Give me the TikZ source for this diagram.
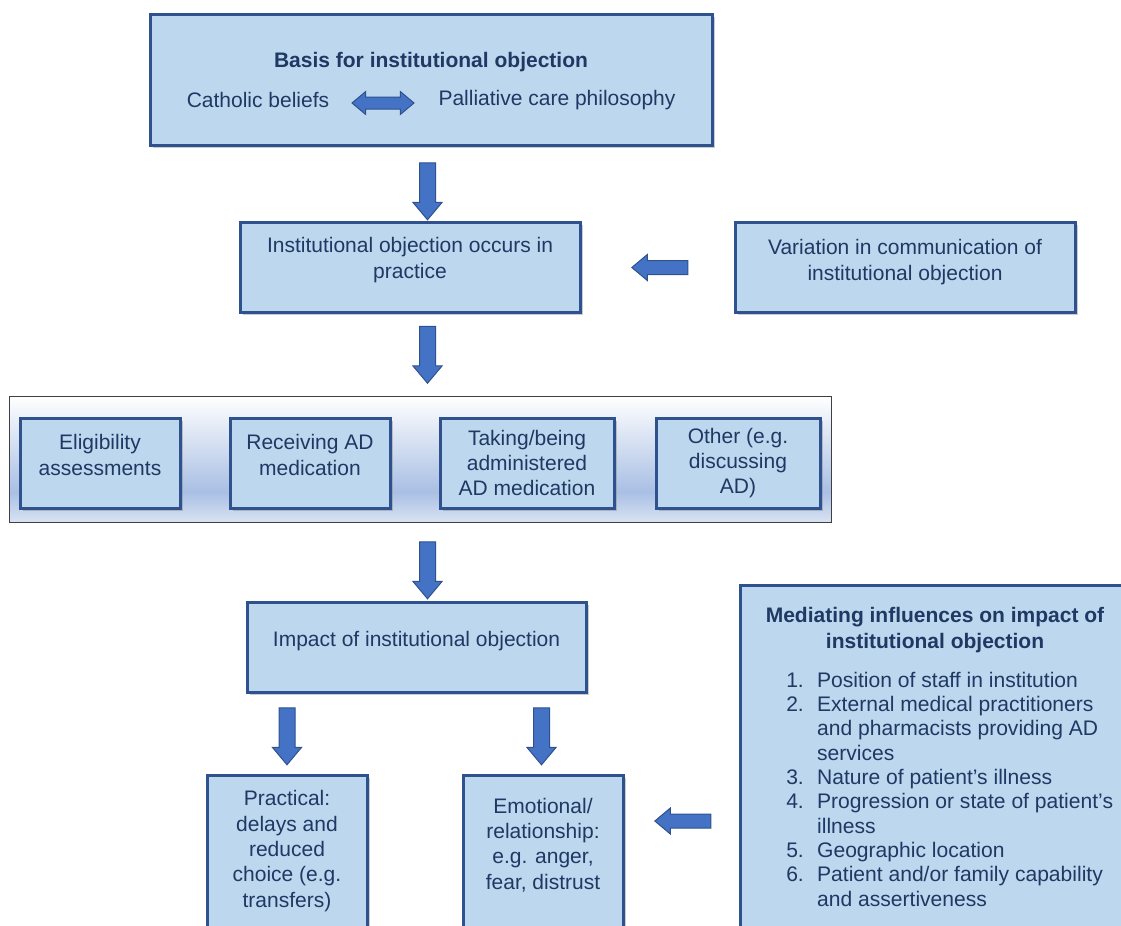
\documentclass[tikz,border=0pt]{standalone}
\usepackage{fontspec}
\setmainfont{Liberation Sans}
\usetikzlibrary{shapes.arrows,shadows}

\definecolor{boxfill}{HTML}{BDD7EE}
\definecolor{boxline}{HTML}{2F528F}
\definecolor{arrowfill}{HTML}{4472C4}
\definecolor{txt}{HTML}{1F3864}
\definecolor{bandblue}{HTML}{A9BFE4}

\pgfdeclareverticalshading{bandshade}{100bp}{color(0bp)=(bandblue!45); color(25bp)=(bandblue!45); color(37bp)=(bandblue); color(75bp)=(white); color(100bp)=(white)}

\newcommand{\pxu}{0.75pt}

\tikzset{
  box/.style={draw=boxline, line width=2.25pt, fill=boxfill, text=txt, align=center, inner sep=0pt,
    font=\fontsize{15.75}{19}\selectfont,
    drop shadow={shadow xshift=2.5pt, shadow yshift=-2.5pt, opacity=.4}},
  lift/.style={text depth=#1},   % pushes the text up in its box
  lbl/.style={text=txt, align=center, inner sep=0pt, font=\fontsize{15.75}{19}\selectfont},
  blockarrow/.style={single arrow, draw=boxline, fill=arrowfill, line width=.75pt,
    minimum height=57*\pxu, minimum width=28*\pxu, single arrow head extend=6.5*\pxu,
    single arrow tip angle=80, inner xsep=0pt, inner ysep=7.5*\pxu},
  downarrow/.style={blockarrow, rotate=-90},
  leftarrow/.style={blockarrow, rotate=180, minimum height=56*\pxu, minimum width=25*\pxu, single arrow head extend=6*\pxu, inner ysep=6.5*\pxu},
  botharrow/.style={double arrow, draw=boxline, fill=arrowfill, line width=.75pt,
    minimum height=62*\pxu, minimum width=22*\pxu, double arrow head extend=5.5*\pxu,
    double arrow tip angle=80, inner xsep=0pt, inner ysep=5.5*\pxu}
}

\begin{document}
\begin{tikzpicture}[x=\pxu, y=-\pxu]
  \useasboundingbox (0,0) rectangle (1121,925);
  \clip (0,0) rectangle (1121,925);

  % top box
  \node[box, minimum width=562*\pxu, minimum height=131*\pxu] (basis) at (431,79.5) {};
  \node[lbl, font=\fontsize{15.75}{19}\selectfont\bfseries] (basistitle) at (431,62) {Basis for institutional objection};
  \node[lbl] (catholic) at (258,100) {Catholic beliefs};
  \node[lbl] (palliative) at (557,100) {Palliative care philosophy};
  \node[botharrow] (both) at (383,103) {};

  \node[box, lift=13.8pt, minimum width=340*\pxu, minimum height=90*\pxu] (practice) at (410,267) {Institutional objection occurs in\\practice};
  \node[box, lift=10.5pt, minimum width=340*\pxu, minimum height=90*\pxu] (variation) at (905,267) {Variation in communication of\\institutional objection};

  % band of situations
  \node[draw=black!75, line width=.75pt, shade, shading=bandshade, inner sep=0pt,
    minimum width=822*\pxu, minimum height=126*\pxu] (band) at (420,459) {};
  \node[box, lift=12pt, minimum width=160*\pxu, minimum height=90*\pxu] (elig) at (100,463) {Eligibility\\assessments};
  \node[box, lift=12pt, minimum width=160*\pxu, minimum height=90*\pxu] (receiving) at (310,463) {Receiving AD\\medication};
  \node[box, minimum width=174*\pxu, minimum height=90*\pxu] (taking) at (527,463) {Taking/being\\administered\\AD medication};
  \node[box, minimum width=164*\pxu, minimum height=90*\pxu] (other) at (738,463) {Other (e.g.\\discussing\\AD)};

  \node[box, lift=12.3pt, minimum width=339*\pxu, minimum height=90*\pxu] (impact) at (416.5,647) {Impact of institutional objection};
  \node[box, lift=9.3pt, minimum width=160*\pxu, minimum height=160*\pxu] (practical) at (287,855) {Practical:\\delays and\\reduced\\choice (e.g.\\transfers)};
  \node[box, lift=17.3pt, minimum width=160*\pxu, minimum height=160*\pxu] (emotional) at (543,855) {Emotional/\\relationship:\\e.g. anger,\\fear, distrust};

  % mediating influences
  \node[box, minimum width=390*\pxu, minimum height=355*\pxu] (mediating) at (935,762.5) {};
  \node[lbl, font=\fontsize{15.75}{19.5}\selectfont\bfseries] (medtitle) at (935,630) {Mediating influences on impact of\\institutional objection};
  \node[lbl, font=\fontsize{15.8}{18.25}\selectfont, anchor=north west, align=left] (medlist) at (786,670) {%
    \begin{tabular}{@{}r@{\hspace{10pt}}l@{}}
      1. & Position of staff in institution\\
      2. & External medical practitioners\\
         & and pharmacists providing AD\\
         & services\\
      3. & Nature of patient's illness\\
      4. & Progression or state of patient's\\
         & illness\\
      5. & Geographic location\\
      6. & Patient and/or family capability\\
         & and assertiveness
    \end{tabular}};

  % block arrows
  \foreach \n/\x/\y in {d1/427.5/186.5, d2/427.5/350, d3/427.5/565.5, d4/287/731.5, d5/541.5/731.5}
  {	\node[downarrow] (\n) at (\x,\y) {};}
  \foreach \n/\x/\y in {l1/664/267.5, l2/687/821}
  {	\node[leftarrow] (\n) at (\x,\y) {};}
\end{tikzpicture}
\end{document}
